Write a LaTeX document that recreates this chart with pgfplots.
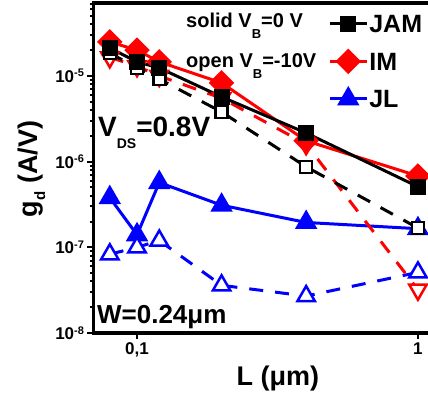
\documentclass[border=0pt]{standalone}
\usepackage{pgfplots}
\pgfplotsset{compat=1.18}
\usepackage{fontspec}
\setmainfont{Liberation Sans}
\usetikzlibrary{calc}
\newcommand{\tl}[1]{10\raisebox{0.32em}{\fontsize{11}{11}\selectfont -#1}}
\begin{document}
\begin{tikzpicture}
\begin{axis}[
  name=ax,
  scale only axis,
  width=341.5pt, height=330pt,
  xmode=log, ymode=log,
  xmin=0.07, xmax=1.15,
  ymin=1e-8, ymax=7.1e-5,
  axis line style={line width=3.5pt},
  xtick={0.1,1}, xticklabels={{0,1},1},
  xminorticks=false,
  ytick={1e-8,1e-7,1e-6,1e-5},
  yticklabels={\tl{8},\tl{7},\tl{6},\tl{5}},
  minor ytick={2e-8,3e-8,4e-8,5e-8,6e-8,7e-8,8e-8,9e-8,2e-7,3e-7,4e-7,5e-7,6e-7,7e-7,8e-7,9e-7,2e-6,3e-6,4e-6,5e-6,6e-6,7e-6,8e-6,9e-6,2e-5,3e-5,4e-5,5e-5,6e-5,7e-5},
  xtick pos=left, ytick pos=left,
  tick align=outside,
  major tick length=6pt, minor tick length=3.5pt,
  every tick/.style={black, line width=2pt},
  ticklabel style={font=\fontsize{17}{17}\selectfont\bfseries},
  xlabel={L (μm)},
  ylabel={g\raisebox{-0.3em}{\fontsize{15}{15}\selectfont d} (A/V)},
  label style={font=\fontsize{27}{27}\selectfont\bfseries},
  xlabel style={at={(axis description cs:0.54,-0.158)}, anchor=base},
  ylabel style={at={(axis description cs:-0.165,0.497)}, anchor=base},
  legend style={at={(axis description cs:0.687,0.968)}, anchor=north west, draw=none, fill=none, inner sep=0pt,
    font=\fontsize{25}{25}\selectfont\bfseries, row sep=17pt,
    nodes={inner sep=1pt, text height=18pt, text depth=0pt},
    /tikz/every even column/.append style={column sep=7pt}},
  legend cell align=left,
  legend image code/.code={\draw[mark repeat=2,mark phase=2,#1] plot coordinates {(0pt,0pt) (18.5pt,0pt) (37pt,0pt)};},
  reverse legend,
]
% JL
\addplot[blue, line width=3pt, mark=triangle*, mark size=10pt, mark options={solid, fill=blue}] coordinates {
(0.08,3.8e-7)(0.1,1.4e-7)(0.12,5.7e-7)(0.2,3.1e-7)(0.4,1.95e-7)(1,1.65e-7)};
\addlegendentry{JL}
\addplot[blue, line width=3pt, dash pattern=on 14pt off 12pt, mark=triangle*, mark size=10pt, mark options={solid, fill=white, line width=2.5pt}, forget plot] coordinates {
(0.08,8.3e-8)(0.1,1.0e-7)(0.12,1.2e-7)(0.2,3.6e-8)(0.4,2.7e-8)(1,5.1e-8)};
% IM
\addplot[red, line width=3pt, dash pattern=on 14pt off 12pt, mark=triangle*, mark size=10pt, mark options={solid, rotate=180, fill=white, line width=2.5pt}, forget plot] coordinates {
(0.08,1.65e-5)(0.1,1.3e-5)(0.12,1.0e-5)(0.2,5.5e-6)(0.4,1.6e-6)(1,3.2e-8)};
\addplot[red, line width=3pt, mark=square*, mark size=7.5pt, mark options={solid, rotate=45, fill=red}] coordinates {
(0.08,2.5e-5)(0.1,2.0e-5)(0.12,1.46e-5)(0.2,8.3e-6)(0.4,1.75e-6)(1,6.8e-7)};
\addlegendentry{IM}
% JAM
\addplot[black, line width=3pt, dash pattern=on 14pt off 12pt, mark=square*, mark size=6pt, mark options={solid, fill=white, line width=2.5pt}, forget plot] coordinates {
(0.08,1.85e-5)(0.1,1.24e-5)(0.12,9.2e-6)(0.2,3.8e-6)(0.4,8.7e-7)(1,1.68e-7)};
\addplot[black, line width=3pt, mark=square*, mark size=6.5pt, mark options={solid, fill=black}] coordinates {
(0.08,2.12e-5)(0.1,1.46e-5)(0.12,1.24e-5)(0.2,5.7e-6)(0.4,2.16e-6)(1,5.1e-7)};
\addlegendentry{JAM}
\node[anchor=base west, inner sep=0pt, font=\fontsize{20}{20}\selectfont\bfseries] at (axis description cs:0.271,0.927) {solid V\raisebox{-0.55em}{\fontsize{13}{13}\selectfont B}=0 V};
\node[anchor=base west, inner sep=0pt, font=\fontsize{20}{20}\selectfont\bfseries] at (axis description cs:0.271,0.806) {open V\raisebox{-0.55em}{\fontsize{13}{13}\selectfont B}=-10V};
\node[anchor=base west, inner sep=0pt, font=\fontsize{28}{28}\selectfont\bfseries] at (axis description cs:0.013,0.594) {V\raisebox{-0.4em}{\fontsize{14}{14}\selectfont DS}=0.8V};
\node[anchor=base west, inner sep=0pt, font=\fontsize{26}{26}\selectfont\bfseries] at (axis description cs:0.010,0.030) {W=0.24μm};
\end{axis}
\pgfresetboundingbox
\path[use as bounding box] ($(ax.south west)+(-93.5pt,-63pt)$) rectangle ($(ax.south west)+(334.5pt,333pt)$);
\end{tikzpicture}
\end{document}
